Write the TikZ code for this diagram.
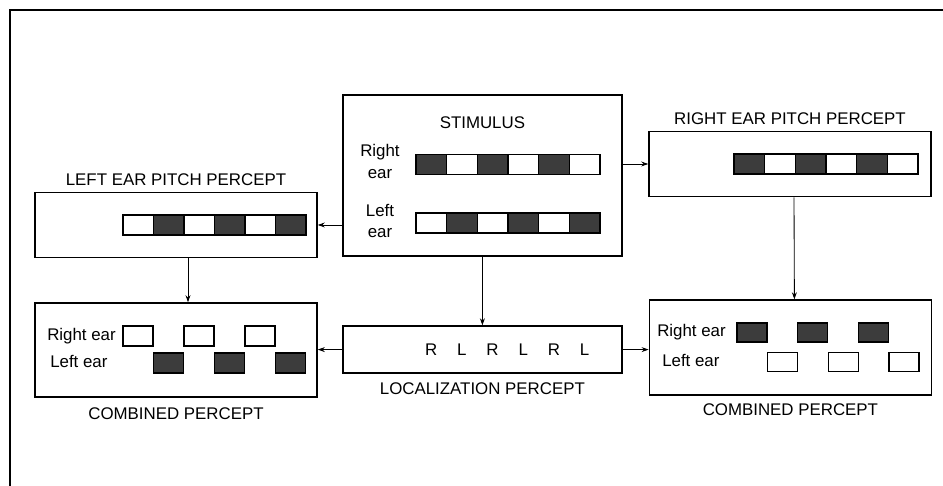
\documentclass[tikz,border=0pt]{standalone}
\usepackage{fontspec}
\setmainfont{Liberation Sans}
\usetikzlibrary{arrows.meta, positioning, calc}
\definecolor{cellgray}{HTML}{3C3C3C}

\begin{document}
\begin{tikzpicture}[
  every node/.style={font=\fontsize{12}{15.5}\selectfont},
  box/.style={rectangle, draw, line width=1.1pt, minimum width=7.05cm, inner sep=0pt},
  caption/.style={inner sep=0pt},
  cell/.style={draw, line width=0.9pt},
  earlabel/.style={anchor=west, inner sep=0pt, text height=1.6ex, text depth=0.4ex},
  arr/.style={-{Stealth[length=5pt,width=3.5pt]}, line width=0.6pt},
]
\useasboundingbox (0,0) rectangle (23.575,12.15);
\draw[line width=1.2pt] (0.25,0) -- (0.25,11.9) -- (23.575,11.9);

% boxes
\node[box, minimum width=6.975cm, minimum height=4.025cm] (stim) at (12.06,7.76) {};
\node[box, minimum height=1.625cm] (lpitch) at (4.4,6.525) {};
\node[box, minimum height=1.625cm] (rpitch) at (19.75,8.05) {};
\node[box, minimum height=2.35cm] (lcomb) at (4.4,3.4) {};
\node[box, minimum width=6.975cm, minimum height=1.175cm] (loc) at (12.06,3.41) {};
\node[box, minimum height=2.375cm] (rcomb) at (19.76,3.46) {};

% titles
\node[caption, below=0.55cm of stim.north] (stimtitle) {STIMULUS};
\node[caption, above=0.15cm of lpitch] (lpitchtitle) {LEFT EAR PITCH PERCEPT};
\node[caption, above=0.15cm of rpitch] (rpitchtitle) {RIGHT EAR PITCH PERCEPT};
\node[caption, below=0.25cm of lcomb] (lcombtitle) {COMBINED PERCEPT};
\node[caption, below=0.22cm of loc] (loctitle) {LOCALIZATION PERCEPT};
\node[caption, below=0.2cm of rcomb] (rcombtitle) {COMBINED PERCEPT};

% stimulus
\node[align=center, inner sep=0pt] (stimr) at (9.5,8.11) {Right\\ear};
\node[align=center, inner sep=0pt] (stiml) at (9.5,6.625) {Left\\ear};
\foreach \f [count=\i from 0] in {cellgray,white,cellgray,white,cellgray,white}
  \draw[cell, fill=\f] (10.4+\i*0.767, 7.79) rectangle ++(0.767,0.5);
\foreach \f [count=\i from 0] in {white,cellgray,white,cellgray,white,cellgray}
  \draw[cell, fill=\f] (10.4+\i*0.767, 6.325) rectangle ++(0.767,0.5);

% pitch percepts
\foreach \f [count=\i from 0] in {white,cellgray,white,cellgray,white,cellgray}
  \draw[cell, fill=\f] (3.075+\i*0.7625, 6.275) rectangle ++(0.7625,0.5);
\foreach \f [count=\i from 0] in {cellgray,white,cellgray,white,cellgray,white}
  \draw[cell, fill=\f] (18.35+\i*0.767, 7.8) rectangle ++(0.767,0.5);

% localization
\foreach \l [count=\i from 0] in {R,L,R,L,R,L}
  \node (let\i) at (10.78+\i*0.767, 3.41) {\l};

% combined percepts
\node[earlabel] (lcombr) at (1.175,3.75) {Right ear};
\node[earlabel] (lcombl) at (1.25,3.075) {Left ear};
\foreach \i in {0,2,4}
  \draw[cell, fill=white] (3.075+\i*0.7625, 3.5) rectangle ++(0.75,0.5);
\foreach \i in {1,3,5}
  \draw[cell, fill=cellgray] (3.075+\i*0.7625, 2.825) rectangle ++(0.75,0.5);

\node[earlabel] (rcombr) at (16.425,3.84) {Right ear};
\node[earlabel] (rcombl) at (16.55,3.11) {Left ear};
\foreach \i in {0,2,4}
  \draw[cell, fill=cellgray] (18.425+\i*0.76, 3.6) rectangle ++(0.75,0.475);
\foreach \i in {1,3,5}
  \draw[cell, fill=white] (18.425+\i*0.76, 2.87) rectangle ++(0.75,0.475);

% arrows
\draw[arr] (stim.east |- rpitch.west) -- (rpitch.west);
\draw[arr] (stim.west |- lpitch.east) -- (lpitch.east);
\draw[arr] ([xshift=0.3cm]lpitch.south) -- ([xshift=0.3cm]lcomb.north);
\draw[arr] ([xshift=0.1cm]rpitch.south) -- ([xshift=0.1cm]rcomb.north);
\draw[arr] (stim.south) -- (loc.north);
\draw[arr] (loc.west) -- (loc.west -| lcomb.east);
\draw[arr] (loc.east) -- (loc.east -| rcomb.west);
\end{tikzpicture}
\end{document}
